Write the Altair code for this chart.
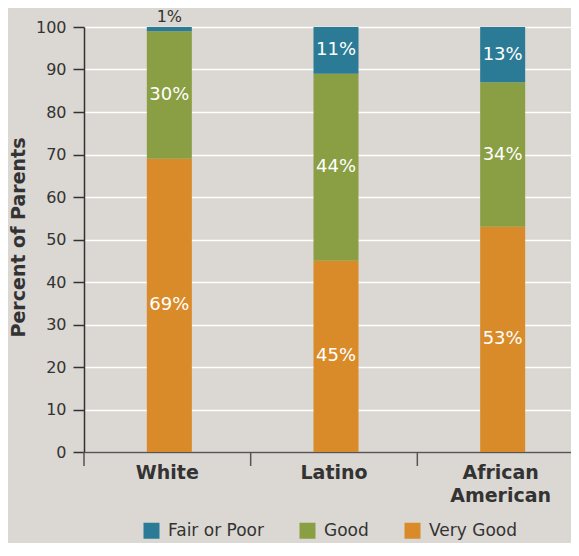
import altair as alt
import pandas as pd

categories = ["White", "Latino", "African American"]
very_good = [69, 45, 53]
good = [30, 44, 34]
fair_poor = [1, 11, 13]
series = ["Very Good", "Good", "Fair or Poor"]
legend_order = ["Fair or Poor", "Good", "Very Good"]
colors = ["#2c7b96", "#8a9e44", "#d98b2a"]
y_ticks = [0, 10, 20, 30, 40, 50, 60, 70, 80, 90, 100]

rows = []
for i, cat in enumerate(categories):
    start = 0
    for s, vals in zip(series, [very_good, good, fair_poor]):
        v = vals[i]
        end = start + v
        small = v < 5
        rows.append({
            "category": cat,
            "series": s,
            "value": v,
            "start": start,
            "end": end,
            "label": f"{v}%",
            "label_y": end + 2.3 if small else (start + end) / 2,
            "label_color": "#333333" if small else "#ffffff",
        })
        start = end
df = pd.DataFrame(rows)

FONT = "DejaVu Sans"
BG = "#dbd7d2"
DARK = "#333333"
H = 425

x_scale = alt.Scale(paddingInner=0, paddingOuter=0, range=[0, 500])

x_enc = alt.X("category:N", sort=categories, scale=x_scale,
              axis=alt.Axis(title=None, ticks=False, domain=True, domainColor="#555555",
                            domainWidth=1.5, labelAngle=0, labelFont=FONT, labelFontSize=19,
                            labelFontWeight="bold", labelColor=DARK, labelPadding=11,
                            labelExpr="split(datum.label, ' ')", labelLineHeight=23,
                            grid=False))

base = alt.Chart(df)

bars = base.mark_bar(width=45, xOffset=2).encode(
    x=x_enc,
    y=alt.Y("start:Q", scale=alt.Scale(domain=[0, 100], nice=False),
            axis=alt.Axis(title="Percent of Parents", values=y_ticks, grid=True,
                          gridColor="#ffffff", gridWidth=1.5, tickSize=11, tickColor=DARK,
                          tickWidth=1.5, domainColor=DARK, domainWidth=1.5,
                          labelFont=FONT, labelFontSize=16, labelColor=DARK, labelPadding=7,
                          titleFont=FONT, titleFontSize=19, titleFontWeight="bold",
                          titleColor=DARK, titleX=-60, titleY=210, titleAngle=270,
                          titleBaseline="alphabetic", titleAlign="center")),
    y2="end:Q",
    color=alt.Color("series:N",
                    scale=alt.Scale(domain=legend_order, range=colors),
                    legend=alt.Legend(title=None, orient="none", direction="horizontal",
                                      legendX=59, legendY=495, symbolType="square",
                                      symbolSize=256, symbolStrokeWidth=0, labelFont=FONT,
                                      labelFontSize=17, labelColor=DARK, labelOffset=8,
                                      columnPadding=35, symbolOpacity=1)),
)

labels = base.mark_text(font=FONT, fontSize=18, xOffset=2).encode(
    x=alt.X("category:N", sort=categories, scale=x_scale),
    y=alt.Y("label_y:Q"),
    text="label:N",
    color=alt.Color("label_color:N", scale=None),
    size=alt.condition(alt.datum.value < 5, alt.value(16), alt.value(18)),
)

ticks_df = pd.DataFrame({"category": categories})
xticks = alt.Chart(ticks_df).mark_rule(color="#555555", strokeWidth=1.5).encode(
    x=alt.X("category:N", sort=categories, bandPosition=0, scale=x_scale),
    y=alt.value(H),
    y2=alt.value(H + 14),
)

chart = alt.layer(bars, labels, xticks).properties(
    width=487, height=H,
    autosize=alt.AutoSizeParams(type="none"),
    padding={"left": 76, "top": 19, "right": 0, "bottom": 91},
    background=BG,
).configure_view(stroke=None)

chart.save("out.html", embed_options={"renderer": "svg", "actions": False})
